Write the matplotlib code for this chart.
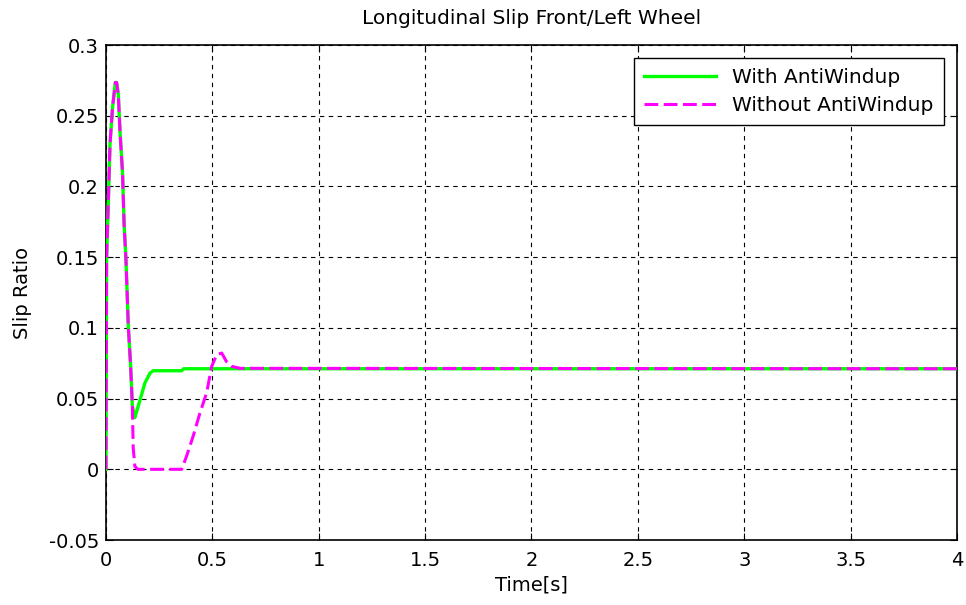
import numpy as np
import matplotlib.pyplot as plt

plt.rcParams["font.family"] = ["DejaVu Sans"]

# slip ratio traces, front/left wheel
t_aw = [0.0, 0.003, 0.011, 0.019, 0.031, 0.044, 0.050, 0.058, 0.066, 0.078,
        0.085, 0.094, 0.105, 0.116, 0.124, 0.136, 0.160, 0.183, 0.207, 0.222,
        0.356, 0.365, 4.0]
s_aw = [0.0, 0.150, 0.188, 0.230, 0.256, 0.2735, 0.2735, 0.265, 0.239, 0.209,
        0.174, 0.148, 0.101, 0.0728, 0.0446, 0.0366, 0.049, 0.061, 0.068, 0.0697,
        0.0697, 0.0711, 0.0711]

t_no = [0.0, 0.003, 0.011, 0.019, 0.031, 0.044, 0.050, 0.058, 0.066, 0.078,
        0.085, 0.094, 0.105, 0.116, 0.124, 0.128, 0.136, 0.150, 0.356, 0.379,
        0.410, 0.442, 0.473, 0.497, 0.520, 0.544, 0.567, 0.591, 0.630, 4.0]
s_no = [0.0, 0.150, 0.188, 0.230, 0.256, 0.2735, 0.2735, 0.265, 0.239, 0.209,
        0.174, 0.148, 0.101, 0.0728, 0.0446, 0.015, 0.002, 0.0, 0.0, 0.0094,
        0.0235, 0.040, 0.054, 0.0728, 0.081, 0.0822, 0.076, 0.0728, 0.0714, 0.0711]

xticks = [0, 0.5, 1, 1.5, 2, 2.5, 3, 3.5, 4]
yticks = [-0.05, 0, 0.05, 0.1, 0.15, 0.2, 0.25, 0.3]
ylabels = ["-0.05", "0", "0.05", "0.1", "0.15", "0.2", "0.25", "0.3"]

fig = plt.figure(figsize=(9.66, 6.05), dpi=100, facecolor="white")
ax = fig.add_axes([0.1097, 0.1074, 0.881, 0.8182])

ax.plot(t_aw, s_aw, color="#00ff00", linewidth=2.4, label="With AntiWindup", zorder=3)
ax.plot(t_no, s_no, color="#ff00ff", linewidth=2.2, linestyle=(0, (4.5, 1.8)),
        label="Without AntiWindup", zorder=4)

ax.set_xlim(0, 4)
ax.set_ylim(-0.05, 0.3)
ax.set_xticks(xticks)
ax.set_xticklabels([f"{v:g}" for v in xticks])
ax.set_yticks(yticks)
ax.set_yticklabels(ylabels)
ax.tick_params(direction="in", top=True, right=True, length=5, labelsize=14,
               colors="black")
ax.tick_params(axis="x", pad=8)
ax.tick_params(axis="y", pad=5)
ax.grid(True, color="black", linestyle=(0, (4, 4)), linewidth=0.8)
for sp in ax.spines.values():
    sp.set_linewidth(1.2)

ax.set_title("Longitudinal Slip Front/Left Wheel", fontsize=14.5, pad=15)
ax.set_xlabel("Time[s]", fontsize=14, labelpad=4)
ax.set_ylabel("Slip Ratio", fontsize=14, labelpad=12)

leg = ax.legend(loc="upper right", fontsize=14.5, frameon=True, fancybox=False,
                edgecolor="black", framealpha=1, handlelength=3.6,
                borderpad=0.5, labelspacing=0.45, borderaxespad=0.65)
leg.get_frame().set_linewidth(1.0)

fig.savefig("out.png", dpi=100, facecolor="white")
